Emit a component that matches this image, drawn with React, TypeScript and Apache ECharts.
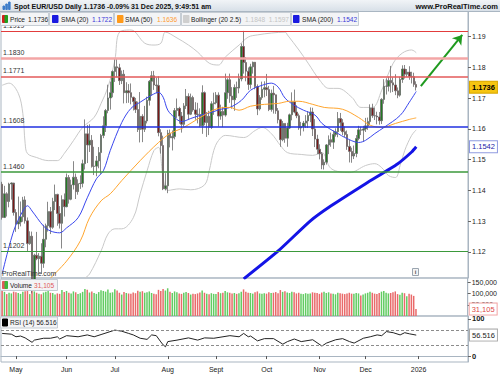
import React, { useEffect, useRef } from "react";
import * as echarts from "echarts";

// ---------------- data ----------------
const firstSession = "2025-04-23";
const sessionSlots = 203; // trading days incl. empty future space

// daily candles [open, close, low, high], 23 Apr 2025 .. 31 Dec 2025
const ohlc: number[][] = [
  // Apr
  [1.1420, 1.1312, 1.1305, 1.1428], [1.1312, 1.1389, 1.1310, 1.1415], [1.1389, 1.1364, 1.1315, 1.1394],
  [1.1364, 1.1421, 1.1345, 1.1425], [1.1421, 1.1424, 1.1370, 1.1426], [1.1424, 1.1328, 1.1318, 1.1419],
  // May
  [1.1328, 1.1291, 1.1265, 1.1339], [1.1291, 1.1297, 1.1274, 1.1380], [1.1297, 1.1314, 1.1283, 1.1364],
  [1.1314, 1.1369, 1.1298, 1.1379], [1.1369, 1.1301, 1.1292, 1.1381], [1.1301, 1.1227, 1.1201, 1.1312],
  [1.1227, 1.1251, 1.1223, 1.1267], [1.1251, 1.1088, 1.1065, 1.1266], [1.1088, 1.1189, 1.1084, 1.1194],
  [1.1189, 1.1178, 1.1173, 1.1265], [1.1178, 1.1186, 1.1133, 1.1196], [1.1186, 1.1163, 1.1128, 1.1228],
  [1.1163, 1.1241, 1.1148, 1.1288], [1.1241, 1.1285, 1.1215, 1.1292], [1.1285, 1.1331, 1.1266, 1.1363],
  [1.1331, 1.1280, 1.1258, 1.1346], [1.1280, 1.1364, 1.1275, 1.1376], [1.1364, 1.1387, 1.1336, 1.1419],
  [1.1387, 1.1325, 1.1285, 1.1389], [1.1325, 1.1293, 1.1276, 1.1349], [1.1293, 1.1370, 1.1211, 1.1384],
  [1.1370, 1.1347, 1.1315, 1.1390],
  // Jun
  [1.1347, 1.1442, 1.1345, 1.1455], [1.1442, 1.1371, 1.1357, 1.1450], [1.1371, 1.1418, 1.1368, 1.1435],
  [1.1418, 1.1443, 1.1403, 1.1495], [1.1443, 1.1396, 1.1372, 1.1455], [1.1396, 1.1422, 1.1386, 1.1436],
  [1.1422, 1.1423, 1.1405, 1.1449], [1.1423, 1.1487, 1.1410, 1.1500], [1.1487, 1.1584, 1.1468, 1.1631],
  [1.1584, 1.1548, 1.1489, 1.1613], [1.1548, 1.1563, 1.1525, 1.1615], [1.1563, 1.1478, 1.1474, 1.1580],
  [1.1478, 1.1479, 1.1450, 1.1542], [1.1479, 1.1496, 1.1446, 1.1512], [1.1496, 1.1523, 1.1472, 1.1541],
  [1.1523, 1.1579, 1.1454, 1.1584], [1.1579, 1.1610, 1.1570, 1.1641], [1.1610, 1.1660, 1.1590, 1.1665],
  [1.1660, 1.1701, 1.1651, 1.1744], [1.1701, 1.1718, 1.1663, 1.1754], [1.1718, 1.1787, 1.1703, 1.1790],
  // Jul
  [1.1787, 1.1802, 1.1753, 1.1830], [1.1802, 1.1799, 1.1768, 1.1829], [1.1799, 1.1757, 1.1743, 1.1812],
  [1.1757, 1.1778, 1.1746, 1.1790], [1.1778, 1.1718, 1.1683, 1.1792], [1.1718, 1.1724, 1.1684, 1.1752],
  [1.1724, 1.1718, 1.1685, 1.1746], [1.1718, 1.1703, 1.1680, 1.1748], [1.1703, 1.1689, 1.1660, 1.1705],
  [1.1689, 1.1663, 1.1652, 1.1701], [1.1663, 1.1598, 1.1590, 1.1689], [1.1598, 1.1641, 1.1556, 1.1720],
  [1.1641, 1.1599, 1.1557, 1.1648], [1.1599, 1.1626, 1.1590, 1.1675], [1.1626, 1.1693, 1.1618, 1.1705],
  [1.1693, 1.1755, 1.1676, 1.1759], [1.1755, 1.1773, 1.1708, 1.1788], [1.1773, 1.1743, 1.1727, 1.1789],
  [1.1743, 1.1741, 1.1716, 1.1767], [1.1741, 1.1588, 1.1576, 1.1771], [1.1588, 1.1546, 1.1520, 1.1599],
  [1.1546, 1.1405, 1.1401, 1.1578], [1.1405, 1.1415, 1.1400, 1.1456],
  // Aug
  [1.1415, 1.1586, 1.1391, 1.1597], [1.1586, 1.1571, 1.1540, 1.1598], [1.1571, 1.1575, 1.1530, 1.1595],
  [1.1575, 1.1660, 1.1566, 1.1668], [1.1660, 1.1667, 1.1636, 1.1699], [1.1667, 1.1642, 1.1617, 1.1672],
  [1.1642, 1.1615, 1.1588, 1.1655], [1.1615, 1.1675, 1.1607, 1.1684], [1.1675, 1.1706, 1.1665, 1.1730],
  [1.1706, 1.1648, 1.1629, 1.1716], [1.1648, 1.1702, 1.1645, 1.1715], [1.1702, 1.1662, 1.1656, 1.1708],
  [1.1662, 1.1648, 1.1630, 1.1687], [1.1648, 1.1647, 1.1618, 1.1685], [1.1647, 1.1610, 1.1606, 1.1667],
  [1.1610, 1.1718, 1.1584, 1.1742], [1.1718, 1.1621, 1.1612, 1.1722], [1.1621, 1.1641, 1.1574, 1.1655],
  [1.1641, 1.1605, 1.1580, 1.1659], [1.1605, 1.1682, 1.1600, 1.1690], [1.1682, 1.1685, 1.1646, 1.1718],
  // Sep
  [1.1685, 1.1710, 1.1680, 1.1720], [1.1710, 1.1642, 1.1608, 1.1719], [1.1642, 1.1657, 1.1630, 1.1679],
  [1.1657, 1.1645, 1.1606, 1.1672], [1.1645, 1.1718, 1.1640, 1.1780], [1.1718, 1.1760, 1.1698, 1.1765],
  [1.1760, 1.1707, 1.1685, 1.1780], [1.1707, 1.1695, 1.1666, 1.1736], [1.1695, 1.1735, 1.1659, 1.1745],
  [1.1735, 1.1733, 1.1701, 1.1754], [1.1733, 1.1763, 1.1716, 1.1780], [1.1763, 1.1868, 1.1755, 1.1878],
  [1.1868, 1.1816, 1.1780, 1.1919], [1.1816, 1.1788, 1.1755, 1.1834], [1.1788, 1.1745, 1.1727, 1.1800],
  [1.1745, 1.1802, 1.1731, 1.1812], [1.1802, 1.1817, 1.1780, 1.1819], [1.1817, 1.1738, 1.1729, 1.1818],
  [1.1738, 1.1665, 1.1645, 1.1745], [1.1665, 1.1702, 1.1660, 1.1710], [1.1702, 1.1729, 1.1695, 1.1754],
  [1.1729, 1.1734, 1.1703, 1.1755],
  // Oct
  [1.1734, 1.1728, 1.1707, 1.1779], [1.1728, 1.1663, 1.1658, 1.1740], [1.1663, 1.1716, 1.1656, 1.1728],
  [1.1716, 1.1711, 1.1650, 1.1740], [1.1711, 1.1659, 1.1649, 1.1710], [1.1659, 1.1630, 1.1618, 1.1668],
  [1.1630, 1.1565, 1.1542, 1.1633], [1.1565, 1.1618, 1.1560, 1.1626], [1.1618, 1.1570, 1.1555, 1.1618],
  [1.1570, 1.1603, 1.1542, 1.1620], [1.1603, 1.1646, 1.1600, 1.1650], [1.1646, 1.1688, 1.1628, 1.1719],
  [1.1688, 1.1655, 1.1651, 1.1728], [1.1655, 1.1643, 1.1635, 1.1677], [1.1643, 1.1603, 1.1597, 1.1650],
  [1.1603, 1.1608, 1.1578, 1.1623], [1.1608, 1.1619, 1.1592, 1.1626], [1.1619, 1.1626, 1.1603, 1.1645],
  [1.1626, 1.1644, 1.1603, 1.1658], [1.1644, 1.1655, 1.1622, 1.1670], [1.1655, 1.1600, 1.1577, 1.1669],
  [1.1600, 1.1567, 1.1541, 1.1632], [1.1567, 1.1534, 1.1518, 1.1581],
  // Nov
  [1.1534, 1.1519, 1.1501, 1.1550], [1.1519, 1.1483, 1.1469, 1.1525], [1.1483, 1.1492, 1.1468, 1.1501],
  [1.1492, 1.1548, 1.1484, 1.1551], [1.1548, 1.1565, 1.1518, 1.1579], [1.1565, 1.1557, 1.1542, 1.1588],
  [1.1557, 1.1582, 1.1535, 1.1595], [1.1582, 1.1591, 1.1575, 1.1602], [1.1591, 1.1634, 1.1573, 1.1655],
  [1.1634, 1.1620, 1.1594, 1.1652], [1.1620, 1.1591, 1.1580, 1.1632], [1.1591, 1.1582, 1.1574, 1.1608],
  [1.1582, 1.1543, 1.1532, 1.1595], [1.1543, 1.1527, 1.1491, 1.1564], [1.1527, 1.1512, 1.1490, 1.1539],
  [1.1512, 1.1520, 1.1502, 1.1546], [1.1520, 1.1569, 1.1508, 1.1580], [1.1569, 1.1597, 1.1563, 1.1610],
  [1.1597, 1.1596, 1.1580, 1.1607], [1.1596, 1.1600, 1.1558, 1.1610],
  // Dec
  [1.1600, 1.1610, 1.1590, 1.1636], [1.1610, 1.1624, 1.1597, 1.1637], [1.1624, 1.1668, 1.1612, 1.1680],
  [1.1668, 1.1643, 1.1636, 1.1682], [1.1643, 1.1642, 1.1629, 1.1670], [1.1642, 1.1639, 1.1615, 1.1656],
  [1.1639, 1.1627, 1.1614, 1.1655], [1.1627, 1.1696, 1.1616, 1.1700], [1.1696, 1.1739, 1.1682, 1.1762],
  [1.1739, 1.1739, 1.1712, 1.1764], [1.1739, 1.1758, 1.1722, 1.1770], [1.1758, 1.1750, 1.1718, 1.1805],
  [1.1750, 1.1743, 1.1720, 1.1768], [1.1743, 1.1724, 1.1710, 1.1778], [1.1724, 1.1710, 1.1700, 1.1735],
  [1.1710, 1.1761, 1.1705, 1.1770], [1.1761, 1.1795, 1.1750, 1.1807], [1.1795, 1.1778, 1.1764, 1.1808],
  [1.1778, 1.1785, 1.1770, 1.1795], [1.1785, 1.1771, 1.1760, 1.1804], [1.1771, 1.1770, 1.1748, 1.1786],
  [1.1770, 1.1745, 1.1737, 1.1783], [1.1745, 1.1736, 1.1725, 1.1755],
];

const volumes: number[] = [
  112000, 108000, 98000, 104000, 101000, 109000,
  106000, 103000, 99000, 108000, 111000, 114000, 98000, 118000, 110000, 104000, 100000, 97000, 105000, 109000, 112000, 104000, 103000, 96000, 101000, 99000, 116000, 107000,
  112000, 104000, 101000, 110000, 106000, 98000, 102000, 108000, 121000, 117000, 105000, 110000, 103000, 99000, 107000, 115000, 112000, 109000, 118000, 104000, 106000,
  120000, 114000, 104000, 96000, 107000, 103000, 101000, 99000, 105000, 102000, 113000, 108000, 111000, 104000, 106000, 110000, 103000, 100000, 97000, 117000, 112000, 121000, 114000,
  124000, 108000, 103000, 110000, 106000, 101000, 99000, 104000, 107000, 103000, 96000, 100000, 98000, 101000, 105000, 114000, 104000, 100000, 97000, 102000, 99000,
  98000, 107000, 102000, 104000, 112000, 106000, 104000, 101000, 103000, 99000, 102000, 109000, 119000, 108000, 104000, 103000, 100000, 106000, 110000, 101000, 99000, 102000,
  100000, 106000, 103000, 104000, 107000, 102000, 116000, 108000, 111000, 105000, 103000, 109000, 106000, 101000, 104000, 100000, 98000, 102000, 99000, 101000, 106000, 104000, 103000,
  99000, 105000, 108000, 103000, 106000, 101000, 99000, 97000, 104000, 102000, 100000, 98000, 101000, 104000, 100000, 99000, 103000, 101000, 92000, 96000,
  101000, 104000, 108000, 104000, 100000, 98000, 103000, 109000, 112000, 104000, 101000, 103000, 106000, 110000, 98000, 95000, 104000, 102000, 88000, 100000, 96000, 90000, 31105,
];

// indicator readings [session index, value]
const sma20Points: number[][] = [
  [0, 1.1128], [5, 1.1268], [9, 1.1333], [11, 1.1350], [13, 1.1333], [18, 1.1284], [21, 1.1268], [25, 1.1262],
  [28, 1.1278], [33, 1.1311], [37, 1.1376], [41, 1.1438], [44, 1.1464], [47, 1.1530], [52, 1.1621], [56, 1.1667],
  [60, 1.1687], [65, 1.1710], [68, 1.1719], [70, 1.1703], [72, 1.1661], [75, 1.1637], [78, 1.1624], [82, 1.1634],
  [86, 1.1644], [91, 1.1654], [95, 1.1664], [99, 1.1670], [104, 1.1693], [108, 1.1726], [113, 1.1742], [117, 1.1749],
  [120, 1.1736], [123, 1.1700], [127, 1.1677], [131, 1.1661], [136, 1.1645], [139, 1.1618], [142, 1.1602],
  [146, 1.1585], [149, 1.1572], [155, 1.1556], [158, 1.1563], [162, 1.1585], [166, 1.1605], [173, 1.1644],
  [177, 1.1687], [180, 1.1722],
];
const sma50Points: number[][] = [
  [21, 1.1115], [28, 1.1170], [34, 1.1236], [38, 1.1311], [43, 1.1366], [47, 1.1389], [52, 1.1432], [60, 1.1497],
  [68, 1.1556], [73, 1.1585], [79, 1.1605], [86, 1.1637], [94, 1.1667], [99, 1.1670], [103, 1.1661], [108, 1.1674],
  [114, 1.1680], [120, 1.1683], [125, 1.1690], [129, 1.1690], [135, 1.1680], [140, 1.1670], [148, 1.1664],
  [155, 1.1637], [160, 1.1612], [165, 1.1605], [171, 1.1618], [177, 1.1631], [180, 1.1636],
];
const sma200Points: number[][] = [
  [105, 1.1112], [120, 1.1203], [134, 1.1301], [143, 1.1350], [158, 1.1422], [172, 1.1487], [178, 1.1525], [180, 1.1542],
];
const bollUpperPoints: number[][] = [
  [0, 1.1742], [3, 1.1749], [7, 1.1716], [9, 1.1650], [10, 1.1553], [11, 1.1520], [15, 1.1507], [20, 1.1497],
  [24, 1.1497], [27, 1.1520], [31, 1.1562], [35, 1.1605], [40, 1.1638], [43, 1.1683], [46, 1.1736], [49, 1.1824],
  [51, 1.1915], [56, 1.1922], [62, 1.1879], [66, 1.1873], [69, 1.1879], [71, 1.1915], [76, 1.1896], [81, 1.1873],
  [85, 1.1850], [90, 1.1814], [94, 1.1808], [97, 1.1834], [103, 1.1873], [107, 1.1899], [111, 1.1906], [117, 1.1912],
  [123, 1.1915], [124, 1.1906], [129, 1.1857], [133, 1.1814], [138, 1.1759], [142, 1.1732], [146, 1.1732],
  [152, 1.1703], [156, 1.1670], [161, 1.1670], [165, 1.1726], [170, 1.1814], [174, 1.1847], [178, 1.1857], [180, 1.1848],
];
const bollLowerPoints: number[][] = [
  [36, 1.1115], [38, 1.1128], [43, 1.1203], [46, 1.1258], [49, 1.1275], [52, 1.1275], [57, 1.1311], [60, 1.1389],
  [63, 1.1464], [66, 1.1530], [68, 1.1540], [70, 1.1440], [72, 1.1400], [77, 1.1405], [82, 1.1402], [88, 1.1418],
  [90, 1.1464], [92, 1.1530], [94, 1.1562], [97, 1.1579], [105, 1.1572], [110, 1.1595], [113, 1.1605], [117, 1.1585],
  [121, 1.1546], [124, 1.1523], [130, 1.1517], [135, 1.1514], [139, 1.1523], [143, 1.1471], [151, 1.1458],
  [158, 1.1481], [162, 1.1487], [165, 1.1474], [168, 1.1448], [171, 1.1442], [173, 1.1481], [175, 1.1530],
  [178, 1.1579], [180, 1.1597],
];
const rsiPoints: number[][] = [
  [0, 61], [4, 59], [6, 52], [8, 54], [10, 49], [13, 37], [14, 43], [18, 48], [21, 48], [24, 52], [25, 46], [28, 55],
  [33, 52], [37, 57], [40, 52], [43, 58], [46, 64], [49, 70], [52, 67], [55, 61], [57, 57], [60, 48], [63, 45],
  [65, 57], [67, 55], [69, 38], [70, 30], [71, 25], [72, 39], [76, 43], [81, 49], [85, 43], [88, 49], [92, 48],
  [96, 52], [99, 55], [103, 52], [105, 61], [107, 52], [108, 54], [111, 41], [114, 47], [118, 47], [122, 32],
  [124, 39], [127, 46], [130, 39], [135, 44], [139, 27], [141, 35], [145, 44], [148, 47], [151, 39], [153, 35],
  [157, 48], [160, 52], [163, 57], [165, 55], [167, 66], [170, 63], [173, 57], [175, 63], [177, 60], [180, 56.516],
];

const levelValues = [1.1919, 1.1830, 1.1771, 1.1608, 1.1460, 1.1202];
const trendArrow: number[][] = [[182, 1.1739], [200, 1.1906]]; // [session index, price]

const priceTicks = [1.12, 1.13, 1.14, 1.15, 1.16, 1.17, 1.18, 1.19];
const volumeTicks = [50000, 100000, 150000];
const rsiTicks = [0, 100];
const rsiBands = [70, 30];

const lastClose = 1.1736;
const lastSma20 = 1.1722;
const lastSma50 = 1.1636;
const lastBoll = [1.1848, 1.1597];
const lastSma200 = 1.1542;
const lastVolume = 31105;
const lastRsi = 56.516;
const monthNames = ["Jan", "Feb", "Mar", "Apr", "May", "Jun", "Jul", "Aug", "Sept", "Oct", "Nov", "Dec"];

// ---------------- helpers ----------------
function buildSessions(): string[] {
  const out: string[] = [];
  const d = new Date(firstSession + "T00:00:00Z");
  while (out.length < sessionSlots) {
    const wd = d.getUTCDay();
    if (wd !== 0 && wd !== 6) out.push(d.toISOString().slice(0, 10));
    d.setUTCDate(d.getUTCDate() + 1);
  }
  return out;
}

const FONT = "'Liberation Sans', Arial, Helvetica, sans-serif";
const AXIS = "#a9b5c1";

const levelStyles = [
  { color: "#e23c3c", width: 1 },
  { color: "#f3a6a6", width: 2.5 },
  { color: "#e35a5a", width: 1.5 },
  { color: "#2030e0", width: 1.5 },
  { color: "#3b993b", width: 1.6 },
  { color: "#3b993b", width: 1 },
];

function buildOption() {
  const sessions = buildSessions();
  const isMonthStart = (i: number) =>
    i > 0 && i < sessions.length && sessions[i].slice(0, 7) !== sessions[i - 1].slice(0, 7);
  const monthLabel = (v: string) => {
    const m = Number(v.slice(5, 7));
    return m === 1 ? v.slice(0, 4) : monthNames[m - 1];
  };

  const volData = volumes.map((v, i) => ({
    value: v,
    itemStyle: { color: ohlc[i] && ohlc[i][1] >= ohlc[i][0] ? "#62cc62" : "#e96a6a" },
  }));

  const valueBox = (text: string, bg: string, border: string, color: string, bold = true) => ({
    show: true,
    position: "end",
    distance: 2,
    formatter: text,
    backgroundColor: bg,
    borderColor: border,
    borderWidth: 1,
    color,
    fontSize: 7.5,
    fontWeight: bold ? "bold" : "normal",
    fontFamily: FONT,
    padding: [2, 2, 1, 2],
  });

  const hiddenLine = { color: "rgba(0,0,0,0)", width: 0 };

  const xAxes = [0, 1, 2].map((g) => ({
    type: "category",
    gridIndex: g,
    data: sessions,
    boundaryGap: true,
    axisLine: { show: g === 2, lineStyle: { color: AXIS } },
    axisTick: {
      show: g === 2,
      alignWithLabel: true,
      interval: (i: number) => isMonthStart(i),
      length: 3,
      lineStyle: { color: "#555" },
    },
    axisLabel: {
      show: g === 2,
      interval: (i: number) => isMonthStart(i),
      formatter: monthLabel,
      fontSize: 7,
      color: "#222",
      margin: 4,
      fontFamily: FONT,
    },
    splitLine: { show: false },
  }));

  const lineSeries = (name: string, data: number[][], color: string, width: number, extra: any = {}) => ({
    name,
    type: "line",
    xAxisIndex: 0,
    yAxisIndex: 0,
    data,
    showSymbol: false,
    smooth: 0.35,
    lineStyle: { color, width },
    silent: true,
    z: 3,
    ...extra,
  });

  return {
    animation: false,
    backgroundColor: "#ffffff",
    textStyle: { fontFamily: FONT },
    grid: [
      { left: 1, right: 32, top: 10, height: 268, show: true, borderColor: AXIS, borderWidth: 1 },
      { left: 1, right: 32, top: 278, height: 38, show: true, borderColor: AXIS, borderWidth: 1 },
      { left: 1, right: 32, top: 316, height: 46, show: true, borderColor: AXIS, borderWidth: 1 },
    ],
    xAxis: xAxes,
    yAxis: [
      {
        type: "value",
        gridIndex: 0,
        position: "right",
        min: 1.1115,
        max: 1.1987,
        axisLine: { show: true, lineStyle: { color: AXIS } },
        axisTick: { show: true, length: 3, customValues: priceTicks, lineStyle: { color: "#666" } },
        axisLabel: {
          customValues: priceTicks,
          formatter: (v: number) => v.toFixed(2),
          fontSize: 7,
          color: "#222",
          margin: 4,
          fontFamily: FONT,
        },
        splitLine: { show: false },
      },
      {
        type: "value",
        gridIndex: 1,
        position: "right",
        min: 0,
        max: 170000,
        axisLine: { show: true, lineStyle: { color: AXIS } },
        axisTick: { show: true, length: 3, customValues: volumeTicks, lineStyle: { color: "#666" } },
        axisLabel: {
          customValues: volumeTicks,
          formatter: (v: number) => v.toLocaleString("en-US"),
          fontSize: 7,
          color: "#222",
          margin: 4,
          fontFamily: FONT,
        },
        splitLine: { show: false },
      },
      {
        type: "value",
        gridIndex: 2,
        position: "right",
        min: -16,
        max: 108,
        axisLine: { show: true, lineStyle: { color: AXIS } },
        axisTick: { show: true, length: 3, customValues: rsiTicks, lineStyle: { color: "#666" } },
        axisLabel: {
          customValues: rsiTicks,
          fontSize: 7.5,
          fontWeight: "bold",
          color: "#222",
          margin: 4,
          fontFamily: FONT,
        },
        splitLine: { show: false },
      },
    ],
    series: [
      lineSeries("Bollinger upper", bollUpperPoints, "#c9c9c9", 1),
      lineSeries("Bollinger lower", bollLowerPoints, "#c9c9c9", 1),
      {
        name: "Price",
        type: "candlestick",
        xAxisIndex: 0,
        yAxisIndex: 0,
        data: ohlc,
        clip: true,
        barWidth: 2,
        z: 4,
        itemStyle: {
          color: "#237a23",
          color0: "#7a1818",
          borderColor: "#6a6a6a",
          borderColor0: "#6a6a6a",
          borderWidth: 0.8,
        },
        markLine: {
          silent: true,
          precision: 4,
          symbol: ["none", "none"],
          z: 10,
          data: [
            ...levelValues.map((v, i) => ({
              yAxis: v,
              lineStyle: { color: levelStyles[i].color, width: levelStyles[i].width, type: "solid" },
              label: {
                show: true,
                position: "insideStartTop",
                distance: 2,
                formatter: v.toFixed(4),
                color: "#333",
                fontSize: 7,
                fontFamily: FONT,
              },
            })),
            {
              yAxis: lastClose,
              lineStyle: hiddenLine,
              label: valueBox(lastClose.toFixed(4), "#f6c512", "#d9a800", "#000"),
            },
          ],
        },
      },
      lineSeries("SMA (20)", sma20Points, "#3a47ee", 1, { z: 5 }),
      lineSeries("SMA (50)", sma50Points, "#ffa52e", 1, {
        z: 5,
        markLine: {
          silent: true,
          precision: 4,
          symbol: ["none", "arrow"],
          symbolSize: 9,
          lineStyle: { color: "#1f9a1f", width: 2, type: "solid" },
          label: { show: false },
          data: [[{ coord: trendArrow[0] }, { coord: trendArrow[1] }]],
        },
      }),
      lineSeries("SMA (200)", sma200Points, "#1414e6", 3, {
        z: 5,
        smooth: 0.2,
        markLine: {
          silent: true,
          precision: 4,
          symbol: ["none", "none"],
          data: [
            {
              yAxis: lastSma200,
              lineStyle: hiddenLine,
              label: valueBox(lastSma200.toFixed(4), "#ffffff", "#8f9ae0", "#2323a8", false),
            },
          ],
        },
      }),
      {
        name: "Volume",
        type: "bar",
        xAxisIndex: 1,
        yAxisIndex: 1,
        data: volData,
        barWidth: 1.5,
        silent: true,
        markLine: {
          silent: true,
          precision: 0,
          symbol: ["none", "none"],
          data: [
            {
              yAxis: lastVolume,
              lineStyle: hiddenLine,
              label: valueBox(lastVolume.toLocaleString("en-US"), "#ffffff", "#f2a3a3", "#e04848", false),
            },
          ],
        },
      },
      {
        name: "RSI (14)",
        type: "line",
        xAxisIndex: 2,
        yAxisIndex: 2,
        data: rsiPoints,
        showSymbol: false,
        lineStyle: { color: "#222", width: 1 },
        silent: true,
        markLine: {
          silent: true,
          precision: 3,
          symbol: ["none", "none"],
          data: [
            ...rsiBands.map((v) => ({
              yAxis: v,
              lineStyle: { color: "#8c8c8c", width: 1, type: [3, 2] },
              label: { show: false },
            })),
            {
              yAxis: lastRsi,
              lineStyle: hiddenLine,
              label: valueBox(lastRsi.toFixed(3), "#ffffff", "#a9a9a9", "#222", false),
            },
          ],
        },
      },
    ],
    graphic: buildGraphics(),
  };
}

function txt(x: number, y: number, text: string, fill: string, size = 6.6, weight = "normal", align = "left") {
  return {
    type: "text",
    x,
    y,
    z: 101,
    silent: true,
    style: { text, fill, fontSize: size, fontWeight: weight, fontFamily: FONT, align, verticalAlign: "middle" },
  };
}
function box(x: number, y: number, w: number, h: number, fill: string, stroke: string) {
  return { type: "rect", z: 100, silent: true, shape: { x, y, width: w, height: h }, style: { fill, stroke, lineWidth: 1 } };
}

function buildGraphics() {
  const title = `Spot EUR/USD Daily ${lastClose.toFixed(4)} -0.09% 31 Dec 2025, 9:49:51 am`;
  const legendFill = "#f3f4f6";
  const legendStroke = "#c6cdd4";
  return [
    {
      type: "rect",
      z: 100,
      silent: true,
      shape: { x: 0, y: 0, width: 500, height: 11 },
      style: {
        fill: new echarts.graphic.LinearGradient(0, 0, 0, 1, [
          { offset: 0, color: "#f1f4f7" },
          { offset: 1, color: "#d8e0e8" },
        ]),
      },
    },
    { type: "line", z: 100, silent: true, shape: { x1: 0, y1: 11.5, x2: 500, y2: 11.5 }, style: { stroke: "#aab6c2" } },
    box(3, 6, 1.5, 3.5, "#3d7cc9", "#3d7cc9"),
    box(5.8, 4, 1.5, 5.5, "#3d7cc9", "#3d7cc9"),
    box(8.6, 2, 1.5, 7.5, "#3d7cc9", "#3d7cc9"),
    txt(14, 6, title, "#111", 7, "bold"),
    txt(498, 6, "www.ProRealTime.com", "#111", 7.5, "bold", "right"),

    // legend row
    box(0.5, 12.5, 48, 13, legendFill, legendStroke),
    box(2.5, 15.5, 2.5, 7, "#d42020", "#d42020"),
    box(5, 15.5, 2.5, 7, "#20a020", "#20a020"),
    txt(10, 19.5, "Price", "#222"),
    txt(28, 19.5, lastClose.toFixed(4), "#222"),

    box(49.5, 12.5, 64, 13, legendFill, legendStroke),
    box(52.5, 15.5, 5.5, 7, "#1a1ae0", "#1a1ae0"),
    txt(61, 19.5, "SMA (20)", "#222"),
    txt(92, 19.5, lastSma20.toFixed(4), "#3a3ad8"),

    box(114.5, 12.5, 66, 13, legendFill, legendStroke),
    box(117.5, 15.5, 5.5, 7, "#ff9a1a", "#ff9a1a"),
    txt(125, 19.5, "SMA (50)", "#222"),
    txt(157, 19.5, lastSma50.toFixed(4), "#ff9d33"),

    box(181.5, 12.5, 109, 13, legendFill, legendStroke),
    box(183.5, 15.5, 5.5, 7, "#cfcfcf", "#cfcfcf"),
    txt(191, 19.5, "Bollinger (20 2.5)", "#222"),
    txt(245, 19.5, `${lastBoll[0].toFixed(4)}  ${lastBoll[1].toFixed(4)}`, "#c4c4c4"),

    box(291.5, 12.5, 67, 13, legendFill, legendStroke),
    box(293.5, 15.5, 5.5, 7, "#1a1ae0", "#1a1ae0"),
    txt(302, 19.5, "SMA (200)", "#222"),
    txt(337, 19.5, lastSma200.toFixed(4), "#3a3ad8"),

    // volume legend
    box(0.5, 279.5, 57, 11, legendFill, legendStroke),
    box(2.5, 281.5, 2.5, 7, "#e05a5a", "#e05a5a"),
    box(5, 281.5, 2.5, 7, "#3cb83c", "#3cb83c"),
    txt(10, 285.5, "Volume", "#222"),
    txt(34, 285.5, lastVolume.toLocaleString("en-US"), "#e05a5a"),

    // RSI legend
    box(0.5, 317, 57, 11, legendFill, legendStroke),
    box(2.5, 319, 5, 7, "#000", "#000"),
    txt(10, 322.5, `RSI (14) ${lastRsi.toFixed(3)}`, "#222"),

    // watermark + info icon
    txt(2, 273, "ProRealTime.com", "#333", 6.8),
    box(412.5, 268.5, 6, 7, "#f4f4f4", "#9aa5b0"),
    txt(415.5, 272, "i", "#555", 6, "bold", "center"),
  ];
}

export default function App() {
  const ref = useRef<HTMLDivElement>(null);
  useEffect(() => {
    if (!ref.current) return;
    const chart = echarts.init(ref.current, null, { renderer: "svg" });
    chart.setOption(buildOption() as any);
    return () => chart.dispose();
  }, []);
  return <div ref={ref} style={{ position: "absolute", left: 0, top: 0, width: 500, height: 375 }} />;
}
